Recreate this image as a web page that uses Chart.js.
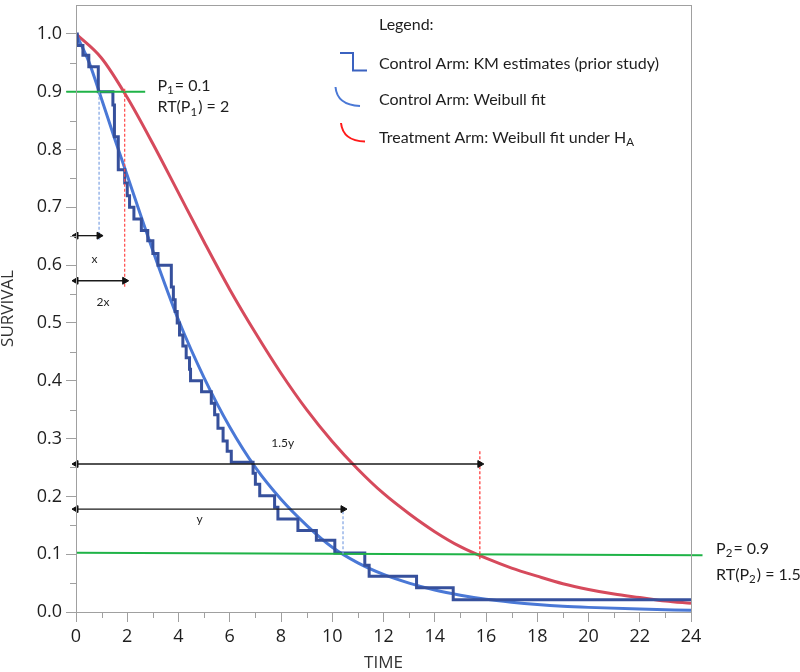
<!DOCTYPE html>
<html>
<head>
<meta charset="utf-8">
<script src="https://cdn.jsdelivr.net/npm/chart.js@4.4.1/dist/chart.umd.min.js"></script>
<style>
  html, body { margin: 0; padding: 0; background: #fff; }
  #wrap { width: 800px; height: 672px; }
</style>
</head>
<body>
<div id="wrap"><canvas id="chart" width="800" height="672"></canvas></div>
<script>
// Kaplan-Meier steps of the control arm (time of drop, survival after drop)
const kmTime = [0, 0.05, 0.27, 0.5, 0.87, 1.44, 1.5, 1.65, 1.9, 2.0, 2.09, 2.26, 2.55, 2.8, 3.0, 3.2, 3.72, 3.8, 3.87, 3.95, 4.04, 4.17, 4.3, 4.43, 4.47, 4.9, 5.28, 5.41, 5.54, 5.74, 5.9, 6.06, 6.91, 7.0, 7.17, 7.75, 7.88, 8.66, 9.38, 10.1, 11.27, 11.44, 13.29, 14.72, 24];
const kmSurv = [1.0, 0.98, 0.963, 0.943, 0.90, 0.877, 0.822, 0.765, 0.742, 0.72, 0.70, 0.68, 0.66, 0.642, 0.62, 0.60, 0.562, 0.54, 0.52, 0.50, 0.479, 0.46, 0.44, 0.42, 0.40, 0.381, 0.361, 0.341, 0.318, 0.296, 0.278, 0.259, 0.24, 0.221, 0.201, 0.181, 0.161, 0.141, 0.124, 0.102, 0.081, 0.062, 0.042, 0.021, 0.021];

// Weibull fits
const ctrlTime = [0, 0.5, 1, 1.5, 2, 3, 4, 5, 6, 7, 8, 9, 10, 11, 12, 13, 14, 15, 16, 17, 18, 19, 20, 22, 24];
const ctrlSurv = [1.0, 0.952, 0.887, 0.82, 0.755, 0.625, 0.505, 0.405, 0.32, 0.25, 0.195, 0.15, 0.112, 0.085, 0.065, 0.05, 0.038, 0.029, 0.022, 0.017, 0.013, 0.01, 0.008, 0.005, 0.003];
const trtTime = [0, 1, 2, 3, 4, 5, 6, 7, 8, 9, 10, 11, 12, 13, 14, 15, 16, 17, 18, 19, 20, 21, 22, 23, 24];
const trtSurv = [1.0, 0.958, 0.89, 0.81, 0.725, 0.64, 0.558, 0.483, 0.413, 0.35, 0.295, 0.247, 0.205, 0.17, 0.139, 0.113, 0.093, 0.076, 0.062, 0.049, 0.039, 0.031, 0.025, 0.019, 0.015];

// reference lines (P1 / P2 levels)
const p1Time = [-0.38, 2.7];
const p1Surv = [0.9, 0.9];
const p2Time = [0, 24.45];
const p2Surv = [0.1026, 0.098];

// dashed drop lines: time, from survival, to survival
const dropTime = [0.9, 1.9, 10.42, 15.76];
const dropFrom = [0.9, 0.905, 0.1, 0.278];
const dropTo = [0.643, 0.562, 0.181, 0.089];
const dropColor = ["#7fa3e3", "#ff4a4a", "#7fa3e3", "#ff3030"];

// double arrows from time 0 to arrowEnd at arrowSurv
const arrowEnd = [0.9, 1.9, 15.76, 10.42];
const arrowSurv = [0.651, 0.573, 0.256, 0.178];
const arrowLabel = ["x", "2x", "1.5y", "y"];
const arrowLabelTime = [0.72, 1.05, 8.07, 4.82];
const arrowLabelSurv = [0.611, 0.536, 0.292, 0.161];

const xMinor = [1, 3, 5, 7, 9, 11, 13, 15, 17, 19, 21, 23];
const yTicks = [0, 0.1, 0.2, 0.3, 0.4, 0.5, 0.6, 0.7, 0.8, 0.9, 1.0];
const yMinor = [0.05, 0.15, 0.25, 0.35, 0.45, 0.55, 0.65, 0.75, 0.85, 0.95];

// notes next to the P lines: [text, isSubscript] pieces
const noteParts = [
  [["P", 0], ["1", 1], ["= 0.1", 0]],
  [["RT(P", 0], ["1", 1], [") = 2", 0]],
  [["P", 0], ["2", 1], ["= 0.9", 0]],
  [["RT(P", 0], ["2", 1], [") = 1.5", 0]],
];
const noteTime = [3.18, 3.18, 24.98, 24.98];
const noteSurv = [0.911, 0.873, 0.11, 0.064];

const legendParts = [
  [["Control Arm: KM estimates (prior study)", 0]],
  [["Control Arm: Weibull fit", 0]],
  [["Treatment Arm: Weibull fit under H", 0], ["A", 1]],
];

const AXIS_GREY = "#a0a0a0";
const TEXT = "#1e1e1e";

function pts(xs, ys) {
  return xs.map((x, i) => ({ x: x, y: ys[i] }));
}

function drawRich(ctx, parts, x, y, size) {
  let cx = x;
  parts.forEach(([t, sub]) => {
    ctx.font = (sub ? size * 0.72 : size) + "px Lato";
    ctx.fillText(t, cx, sub ? y + size * 0.28 : y);
    cx += ctx.measureText(t).width + (sub ? 1 : 0);
  });
}

const datasets = [];

// arrows on top
arrowEnd.forEach((end, i) => {
  datasets.push({
    data: pts([0, end], [arrowSurv[i], arrowSurv[i]]),
    borderColor: "#1a1a1a",
    borderWidth: 1.3,
    pointStyle: "triangle",
    pointRotation: [-90, 90],
    pointRadius: 4,
    pointBackgroundColor: "#111",
    pointBorderColor: "#111",
    pointBorderWidth: 1,
    clip: false,
  });
});

dropTime.forEach((t, i) => {
  datasets.push({
    data: pts([t, t], [dropFrom[i], dropTo[i]]),
    borderColor: dropColor[i],
    borderWidth: 1.2,
    borderDash: [3, 2],
    pointRadius: 0,
  });
});

datasets.push({
  data: pts(p1Time, p1Surv),
  borderColor: "#1fb347",
  borderWidth: 2,
  pointRadius: 0,
  clip: false,
});
datasets.push({
  data: pts(p2Time, p2Surv),
  borderColor: "#1fb347",
  borderWidth: 2,
  pointRadius: 0,
  clip: false,
});

datasets.push({
  data: pts(kmTime, kmSurv),
  stepped: true,
  borderColor: "#36509c",
  borderWidth: 3,
  borderJoinStyle: "miter",
  pointRadius: 0,
});
datasets.push({
  data: pts(ctrlTime, ctrlSurv),
  cubicInterpolationMode: "monotone",
  borderColor: "#4a78d6",
  borderWidth: 3,
  pointRadius: 0,
});
datasets.push({
  data: pts(trtTime, trtSurv),
  cubicInterpolationMode: "monotone",
  borderColor: "#d64a5c",
  borderWidth: 3,
  pointRadius: 0,
});

const extras = {
  id: "extras",
  afterDraw(chart) {
    const { ctx, chartArea: a } = chart;
    const xs = chart.scales.x;
    const ys = chart.scales.y;
    ctx.save();

    // frame
    ctx.strokeStyle = AXIS_GREY;
    ctx.lineWidth = 1;
    ctx.strokeRect(a.left + 0.5, a.top + 0.5, a.right - a.left, a.bottom - a.top);

    // minor ticks
    ctx.beginPath();
    xMinor.forEach((v) => {
      const px = Math.round(xs.getPixelForValue(v)) + 0.5;
      ctx.moveTo(px, a.bottom);
      ctx.lineTo(px, a.bottom + 6);
    });
    yMinor.forEach((v) => {
      const py = Math.round(ys.getPixelForValue(v)) + 0.5;
      ctx.moveTo(a.left - 6, py);
      ctx.lineTo(a.left, py);
    });
    ctx.stroke();

    ctx.fillStyle = TEXT;
    ctx.textBaseline = "middle";

    // arrow labels
    ctx.font = "12px Lato";
    ctx.textAlign = "center";
    arrowLabel.forEach((lab, i) => {
      ctx.fillText(lab, xs.getPixelForValue(arrowLabelTime[i]), ys.getPixelForValue(arrowLabelSurv[i]));
    });
    ctx.textAlign = "left";

    // P notes
    noteParts.forEach((parts, i) => {
      drawRich(ctx, parts, xs.getPixelForValue(noteTime[i]), ys.getPixelForValue(noteSurv[i]), 16);
    });

    // legend
    ctx.font = "16px Lato";
    ctx.fillText("Legend:", 379, 25);
    const rowY = [64, 100, 138];
    legendParts.forEach((parts, i) => {
      drawRich(ctx, parts, 379, rowY[i], 16);
    });

    ctx.lineWidth = 2;
    ctx.strokeStyle = "#3b62c0";
    ctx.beginPath();
    ctx.moveTo(340, 53);
    ctx.lineTo(353, 53);
    ctx.lineTo(353, 70.5);
    ctx.lineTo(367, 70.5);
    ctx.stroke();

    ctx.strokeStyle = "#4a78d6";
    ctx.beginPath();
    ctx.moveTo(335.5, 87);
    ctx.quadraticCurveTo(337, 105, 360, 106);
    ctx.stroke();

    ctx.strokeStyle = "#ff1a1a";
    ctx.beginPath();
    ctx.moveTo(341, 123);
    ctx.quadraticCurveTo(343, 141, 365, 141.5);
    ctx.stroke();

    ctx.restore();
  },
};

new Chart(document.getElementById("chart"), {
  type: "line",
  data: { datasets: datasets },
  options: {
    responsive: false,
    animation: false,
    devicePixelRatio: 1,
    events: [],
    layout: { padding: { left: 0, top: 1, right: 109, bottom: 0 } },
    plugins: { legend: { display: false }, tooltip: { enabled: false } },
    scales: {
      x: {
        type: "linear",
        min: 0,
        max: 24,
        ticks: { stepSize: 2, color: TEXT, padding: 4, font: { family: "Open Sans", size: 18 }, maxRotation: 0 },
        grid: { drawOnChartArea: false, tickLength: 10, color: AXIS_GREY },
        border: { color: AXIS_GREY },
        title: { display: true, text: "TIME", color: "#333", font: { family: "Open Sans", size: 17, lineHeight: 1 }, padding: 0 },
        afterFit(scale) {
          scale.height = 60;
          scale.paddingLeft = 0;
          scale.paddingRight = 0;
        },
      },
      y: {
        type: "linear",
        min: 0,
        max: 1.05,
        afterBuildTicks(scale) {
          scale.ticks = yTicks.map((v) => ({ value: v }));
        },
        ticks: {
          color: TEXT,
          padding: 4,
          font: { family: "Open Sans", size: 18 },
          callback: (v) => Number(v).toFixed(1),
        },
        grid: { drawOnChartArea: false, tickLength: 10, color: AXIS_GREY },
        border: { color: AXIS_GREY },
        title: { display: true, text: "SURVIVAL", color: "#333", font: { family: "Open Sans", size: 17, lineHeight: 1 }, padding: 0 },
        afterFit(scale) {
          scale.width = 76;
          scale.paddingTop = 0;
          scale.paddingBottom = 0;
        },
      },
    },
  },
  plugins: [extras],
});
</script>
</body>
</html>
